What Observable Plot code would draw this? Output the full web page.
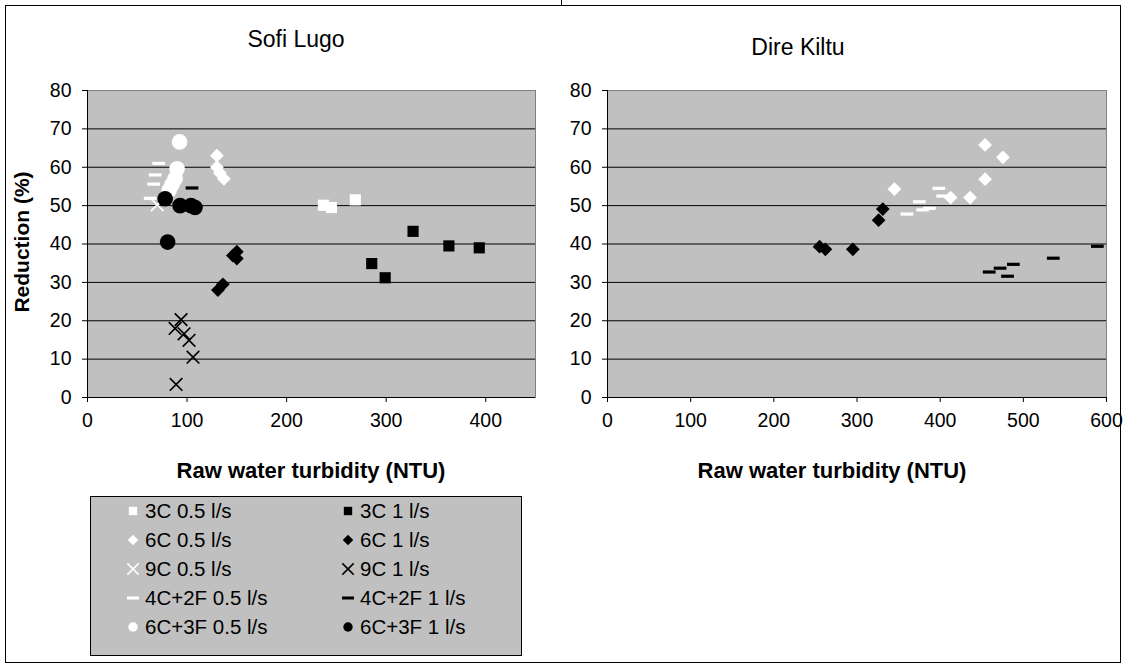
<!DOCTYPE html>
<html><head><meta charset="utf-8">
<script src="https://cdn.jsdelivr.net/npm/d3@7"></script>
<script src="https://cdn.jsdelivr.net/npm/@observablehq/plot@0.6"></script>
<style>
body{margin:0;background:#fff;font-family:"Liberation Sans",Arial,sans-serif;color:#000;}
#root{position:relative;width:1127px;height:666px;overflow:hidden;background:#fff;}
.frame{position:absolute;left:5px;top:5px;width:1116px;height:658px;border:1px solid #000;box-sizing:border-box;}
.topmark{position:absolute;left:561px;top:0;width:1px;height:6px;background:#000;}
.abs{position:absolute;white-space:nowrap;transform:translate(-50%,-50%);}
.title{font-size:23px;}
.axt{font-size:22px;font-weight:bold;}
.axty{font-size:21px;font-weight:bold;}
.legend{position:absolute;left:90px;top:496px;width:432px;height:160px;background:#c0c0c0;border:1px solid #000;box-sizing:border-box;}
.li{position:absolute;font-size:20.5px;display:flex;align-items:center;white-space:nowrap;height:24px;}
.li svg{margin-right:4px;}
</style></head>
<body><div id="root"><div class="frame"></div><div class="topmark"></div></div>
<script>
// ---- data: [raw water turbidity (NTU), reduction (%)] ----
const SL_3C_05   = [[237,50.1],[245,49.5],[269,51.5]];
const SL_3C_1    = [[285.5,34.9],[299,31.2],[327,43.3],[363,39.5],[393.5,39]];
const SL_6C_05   = [[130,63],[130,60],[133,58.5],[137,57]];
const SL_6C_1    = [[131,28],[136,29.5],[146,37],[150,38],[150,36.2]];
const SL_9C_05   = [[70,50.2]];
const SL_9C_1    = [[89,3.4],[88,18],[94,20.3],[97,16.6],[102,14.9],[106,10.5]];
const SL_4C2F_05 = [[71.5,61],[68,58],[66.5,55.6],[63,51.9]];
const SL_4C2F_1  = [[105,54.6]];
const SL_6C3F_05 = [[92.5,66.6],[90,59.6],[88,57],[85,55.5],[82,54]];
const SL_6C3F_1  = [[78,51.8],[80.5,40.5],[93,50],[104,50],[108,49.5]];

const DK_6C_05   = [[345,54.3],[412.5,52.1],[436,52.1],[454,65.8],[454,56.9],[475.5,62.6]];
const DK_6C_1    = [[255,39.3],[262,38.6],[295,38.6],[326,46.2],[331,49.1]];
const DK_4C2F_05 = [[360,47.8],[375,51],[379,48.9],[387,49.3],[398.5,54.5],[403,52.5]];
const DK_4C2F_1  = [[459,32.7],[472,33.7],[481,31.6],[488,34.7],[536,36.3],[589,39.4]];

const seriesNames = ["3C 0.5 l/s","3C 1 l/s","6C 0.5 l/s","6C 1 l/s","9C 0.5 l/s","9C 1 l/s",
                     "4C+2F 0.5 l/s","4C+2F 1 l/s","6C+3F 0.5 l/s","6C+3F 1 l/s"];
const sofiLugoData  = [SL_3C_05, SL_3C_1, SL_6C_05, SL_6C_1, SL_9C_05, SL_9C_1, SL_4C2F_05, SL_4C2F_1, SL_6C3F_05, SL_6C3F_1];
const direKiltuData = [[], [], DK_6C_05, DK_6C_1, [], [], DK_4C2F_05, DK_4C2F_1, [], []];

const yTicks = [0,10,20,30,40,50,60,70,80];
const xTicksSL = [0,100,200,300,400];
const xTicksDK = [0,100,200,300,400,500,600];

// ---- styles ----
const dash = {draw(ctx, size){ const s=Math.sqrt(size), w=s*1.2, h=s*0.3;
  ctx.moveTo(-w/2,-h/2); ctx.lineTo(w/2,-h/2); ctx.lineTo(w/2,h/2); ctx.lineTo(-w/2,h/2); ctx.closePath(); }};
const shapeOf = [ "square","square","diamond2","diamond2","times","times", dash, dash, "circle","circle"];
const rOf     = [6.3,6.3,6.2,6.2,5.8,5.8,6,6,7.8,7.8];
const colOf   = ["#fff","#000","#fff","#000","#fff","#000","#fff","#000","#fff","#000"];
const strokeShapes = new Set(["times"]);

function dots(data){
  return data.map((arr,i)=>{
    const isStroke = strokeShapes.has(shapeOf[i]);
    return Plot.dot(arr, {x:d=>d[0], y:d=>d[1], symbol: shapeOf[i], r: rOf[i],
      fill: isStroke ? "none" : colOf[i], stroke: isStroke ? colOf[i] : "none", strokeWidth: isStroke ? 1.7 : 0});
  });
}

function panel(data, xmax, xticks, left, width, marginRight){
  const svg = Plot.plot({
    width, height: 480,
    marginLeft: 87, marginRight, marginTop: 90, marginBottom: 83,
    x: {domain:[0,xmax]},
    y: {domain:[0,80]},
    style: {fontFamily:"'Liberation Sans', Arial, sans-serif", fontSize:"19.5px", color:"#000", background:"transparent", overflow:"visible"},
    marks: [
      Plot.frame({fill:"#c0c0c0", stroke:"#808080"}),
      Plot.ruleY(yTicks.filter(d=>d>0 && d<80), {stroke:"#000", strokeWidth:1}),
      Plot.ruleX([0], {stroke:"#000"}),
      Plot.ruleY([0], {stroke:"#000"}),
      Plot.axisX({ticks: xticks, tickSize:5, tickPadding:11, label:null, tickFormat:d=>String(d)}),
      Plot.axisY({ticks: yTicks, tickSize:5, tickPadding:11, label:null, tickFormat:d=>String(d)}),
      ...dots(data)
    ]
  });
  svg.style.position = "absolute"; svg.style.left = left+"px"; svg.style.top = "0px";
  return svg;
}

const root = document.getElementById("root");
root.appendChild(panel(sofiLugoData, 450, xTicksSL, 0, 545, 10));
root.appendChild(panel(direKiltuData, 600, xTicksDK, 520, 606, 20));

function addText(txt, cls, x, y, rot){
  const d = document.createElement("div");
  d.className = "abs " + cls; d.textContent = txt;
  d.style.left = x+"px"; d.style.top = y+"px";
  if (rot) d.style.transform = "translate(-50%,-50%) rotate(-90deg)";
  root.appendChild(d);
}
addText("Sofi Lugo", "title", 296, 39);
addText("Dire Kiltu", "title", 798, 47);
addText("Raw water turbidity (NTU)", "axt", 311, 471);
addText("Raw water turbidity (NTU)", "axt", 832, 471);
addText("Reduction (%)", "axty", 22, 242, true);

// legend
const leg = document.createElement("div"); leg.className = "legend"; root.appendChild(leg);
seriesNames.forEach((name,i)=>{
  const col = i%2, row = Math.floor(i/2);
  const item = document.createElement("div"); item.className = "li";
  item.style.left = (col===0 ? 34 : 249) + "px";
  item.style.top = (14 + row*29 - 12) + "px";
  const s = 16;
  const svg = d3.create("svg").attr("width",s).attr("height",s).attr("viewBox",[-s/2,-s/2,s,s]);
  const sh = shapeOf[i];
  const typ = sh===dash ? dash : sh==="square" ? d3.symbolSquare : sh==="diamond2" ? d3.symbolDiamond2 : sh==="times" ? d3.symbolTimes : d3.symbolCircle;
  const size = sh==="circle" ? 70 : sh==="times" ? 85 : sh===dash ? 100 : 70;
  const p = svg.append("path").attr("d", d3.symbol(typ, size)());
  if (sh==="times") p.attr("fill","none").attr("stroke",colOf[i]).attr("stroke-width",1.5);
  else p.attr("fill",colOf[i]);
  item.appendChild(svg.node());
  const t = document.createElement("span"); t.textContent = name; item.appendChild(t);
  leg.appendChild(item);
});
</script></body></html>
